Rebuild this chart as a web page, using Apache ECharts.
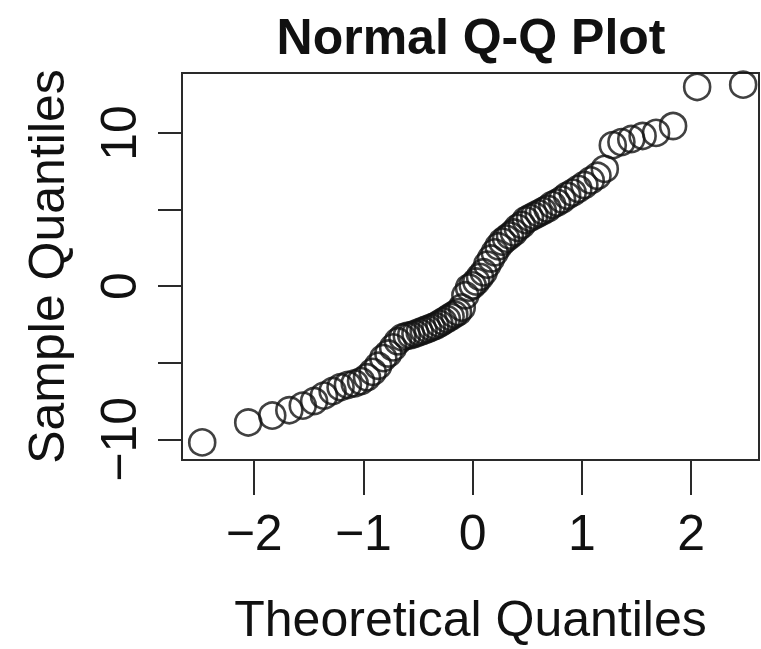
<!DOCTYPE html>
<html>
<head>
<meta charset="utf-8">
<script src="https://cdn.jsdelivr.net/npm/echarts@6/dist/echarts.min.js"></script>
<style>
html,body{margin:0;padding:0;background:#fff;}
#chart{width:761px;height:649px;}
</style>
</head>
<body>
<div id="chart"></div>
<script>
// Theoretical quantiles (x)
const theoretical = [
  -2.475, -2.054, -1.834, -1.678, -1.555, -1.451, -1.361, -1.282, -1.209, -1.142,
  -1.080, -1.022, -0.967, -0.915, -0.865, -0.818, -0.772, -0.728, -0.685, -0.643,
  -0.603, -0.563, -0.524, -0.486, -0.449, -0.412, -0.376, -0.341, -0.305, -0.271,
  -0.236, -0.202, -0.168, -0.134, -0.100, -0.067, -0.033, 0.000, 0.033, 0.067,
  0.100, 0.134, 0.168, 0.202, 0.236, 0.271, 0.305, 0.341, 0.376, 0.412,
  0.449, 0.486, 0.524, 0.563, 0.603, 0.643, 0.685, 0.728, 0.772, 0.818,
  0.865, 0.915, 0.967, 1.022, 1.080, 1.142, 1.209, 1.282, 1.361, 1.451,
  1.555, 1.678, 1.834, 2.054, 2.475
];
// Sample quantiles (y)
const sample = [
  -10.2, -8.9, -8.45, -8.1, -7.8, -7.5, -7.15, -6.85, -6.6, -6.45,
  -6.35, -6.2, -5.95, -5.6, -5.2, -4.7, -4.4, -4.0, -3.6, -3.35,
  -3.25, -3.2, -3.1, -3.0, -2.9, -2.8, -2.7, -2.6, -2.45, -2.3,
  -2.15, -2.0, -1.85, -1.7, -1.4, -0.6, -0.1, 0.05, 0.3, 0.6,
  0.9, 1.4, 1.8, 2.2, 2.6, 2.9, 3.1, 3.3, 3.5, 3.8,
  4.0, 4.3, 4.45, 4.6, 4.75, 4.9, 5.05, 5.3, 5.45, 5.65,
  5.9, 6.1, 6.35, 6.6, 6.9, 7.2, 7.65, 9.2, 9.4, 9.6,
  9.8, 10.0, 10.45, 13.0, 13.15
];
const xTicks = [-2, -1, 0, 1, 2];
const yTicks = [-10, -5, 0, 5, 10];
const yTickLabels = [-10, 0, 10];

const titleText = 'Normal Q-Q Plot';
const xName = 'Theoretical Quantiles';
const yName = 'Sample Quantiles';

const points = theoretical.map((x, i) => [x, sample[i]]);
const fmt = v => (v < 0 ? '\u2212' + Math.abs(v) : String(v));
const FONT = '"Liberation Sans", Arial, Helvetica, sans-serif';
const INK = '#111111';

const chart = echarts.init(document.getElementById('chart'), null, {renderer: 'svg'});
chart.setOption({
  animation: false,
  backgroundColor: '#ffffff',
  title: {
    text: titleText,
    left: 471,
    top: 12,
    textAlign: 'center',
    padding: 0,
    textStyle: {fontFamily: FONT, fontWeight: 'bold', fontSize: 50, color: INK}
  },
  grid: {
    left: 182, right: 2, top: 73, bottom: 182,
    show: true, borderColor: '#2a2a2a', borderWidth: 2, backgroundColor: 'transparent'
  },
  xAxis: {
    type: 'value',
    min: -2.66, max: 2.62,
    name: xName,
    nameLocation: 'middle',
    nameGap: 134,
    nameTextStyle: {fontFamily: FONT, fontSize: 50, color: INK},
    axisLine: {show: false, onZero: false},
    splitLine: {show: false},
    axisTick: {show: true, inside: false, length: 35, customValues: xTicks,
      lineStyle: {color: '#2a2a2a', width: 2}},
    axisLabel: {customValues: xTicks, margin: 48, formatter: fmt,
      fontFamily: FONT, fontSize: 50, color: INK}
  },
  yAxis: {
    type: 'value',
    min: -11.35, max: 13.91,
    name: yName,
    nameLocation: 'middle',
    nameGap: 110,
    nameTextStyle: {fontFamily: FONT, fontSize: 50, color: INK},
    axisLine: {show: false, onZero: false},
    splitLine: {show: false},
    axisTick: {show: true, inside: false, length: 24, customValues: yTicks,
      lineStyle: {color: '#2a2a2a', width: 2}},
    axisLabel: {customValues: yTickLabels, rotate: 90, margin: 38, formatter: fmt,
      fontFamily: FONT, fontSize: 50, color: INK}
  },
  series: [{
    type: 'scatter',
    data: points,
    symbol: 'circle',
    symbolSize: 26,
    itemStyle: {color: 'rgba(0,0,0,0)', borderColor: INK, borderWidth: 2.6},
    silent: true
  }]
});
</script>
</body>
</html>
